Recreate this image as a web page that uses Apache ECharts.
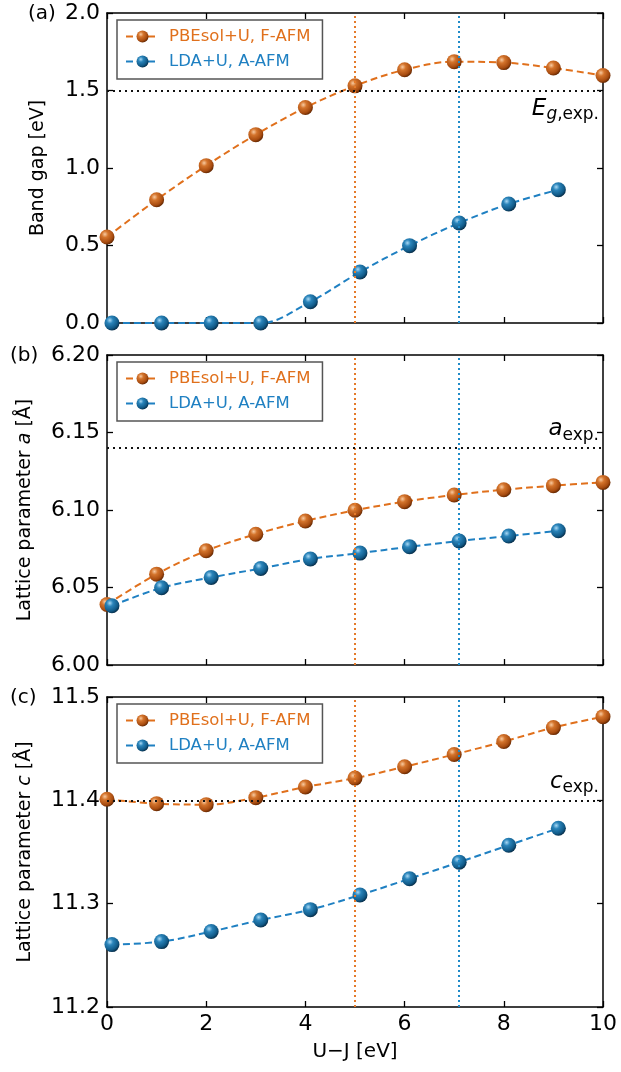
<!DOCTYPE html>
<html>
<head>
<meta charset="utf-8">
<script src="https://cdn.jsdelivr.net/npm/echarts@6/dist/echarts.min.js"></script>
<style>html,body{margin:0;padding:0;background:#fff}#c{width:621px;height:1072px}</style>
</head>
<body>
<div id="c"></div>
<script>
// ---- data ----
const xOrange = [0, 1, 2, 3, 4, 5, 6, 7, 8, 9, 10];
const xBlue = [0.1, 1.1, 2.1, 3.1, 4.1, 5.1, 6.1, 7.1, 8.1, 9.1];
const gapOrange = [0.555, 0.795, 1.015, 1.215, 1.39, 1.53, 1.634, 1.686, 1.68, 1.645, 1.597];
const gapBlue = [0, 0, 0, 0, 0.137, 0.329, 0.499, 0.645, 0.768, 0.86];
const aOrange = [6.039, 6.0586, 6.0737, 6.0844, 6.0929, 6.0998, 6.1054, 6.1097, 6.1131, 6.1157, 6.1178];
const aBlue = [6.0382, 6.0498, 6.0565, 6.0623, 6.0684, 6.0722, 6.0763, 6.08, 6.0832, 6.0866];
const cOrange = [11.401, 11.3968, 11.3958, 11.4026, 11.4129, 11.4215, 11.4325, 11.4444, 11.4569, 11.4704, 11.481];
const cBlue = [11.2604, 11.2633, 11.273, 11.2842, 11.2942, 11.3084, 11.3241, 11.3402, 11.3566, 11.373];
const expGap = 1.5, expA = 6.14, expC = 11.40;
const optUOrange = 5.0, optUBlue = 7.1;
const nameOrange = 'PBEsol+U, F-AFM';
const nameBlue = 'LDA+U, A-AFM';
const panelTags = ['(a)', '(b)', '(c)'];
const xTicks = {min: 0, max: 10, interval: 2};
const yAxesDef = [
  {min: 0, max: 2, interval: 0.5, dec: 1},
  {min: 6.0, max: 6.2, interval: 0.05, dec: 2},
  {min: 11.2, max: 11.5, interval: 0.1, dec: 1}
];

// ---- styling ----
const FONT = 'DejaVu Sans';
const OR = '#e0701c', BL = '#1f80c2';
const orangeBall = {type: 'radial', x: 0.36, y: 0.32, r: 0.72, colorStops: [
  {offset: 0, color: '#f8caa0'}, {offset: 0.3, color: '#d4742c'}, {offset: 0.75, color: '#a84c10'}, {offset: 1, color: '#5e2400'}]};
const blueBall = {type: 'radial', x: 0.36, y: 0.32, r: 0.72, colorStops: [
  {offset: 0, color: '#a8d8f4'}, {offset: 0.3, color: '#2a84ba'}, {offset: 0.75, color: '#115a88'}, {offset: 1, color: '#062a44'}]};

const tops = [13, 355, 697];
const H = 310;
const grids = tops.map(t => ({left: 107, right: 18, top: t, height: H}));

const xAxes = [], yAxes = [];
tops.forEach((t, i) => {
  const last = i === 2;
  const base = {type: 'value', gridIndex: i, min: xTicks.min, max: xTicks.max, interval: xTicks.interval,
    axisLine: {show: true, onZero: false, lineStyle: {color: '#000', width: 1.5}},
    axisTick: {show: true, inside: true, length: 6, lineStyle: {color: '#000', width: 1.3}},
    splitLine: {show: false}};
  xAxes.push(Object.assign({}, base, {position: 'bottom',
    axisLabel: {show: last, margin: 6, fontSize: 22, color: '#000', fontFamily: FONT},
    name: last ? 'U\u2212J [eV]' : '', nameLocation: 'middle', nameGap: 35,
    nameTextStyle: {fontSize: 20, color: '#000', fontFamily: FONT}}));
  xAxes.push(Object.assign({}, base, {position: 'top', axisLabel: {show: false}}));
  const yd = yAxesDef[i];
  const ybase = {type: 'value', gridIndex: i, min: yd.min, max: yd.max, interval: yd.interval,
    axisLine: {show: true, onZero: false, lineStyle: {color: '#000', width: 1.5}},
    axisTick: {show: true, inside: true, length: 6, lineStyle: {color: '#000', width: 1.3}},
    splitLine: {show: false}};
  const names = ['Band gap [eV]', '{n|Lattice parameter }{i|a}{n| [\u00c5]}', '{n|Lattice parameter }{i|c}{n| [\u00c5]}'];
  yAxes.push(Object.assign({}, ybase, {position: 'left',
    axisLabel: {show: true, margin: 7, fontSize: 22, color: '#000', fontFamily: FONT,
      formatter: v => v.toFixed(yd.dec)},
    name: names[i], nameLocation: 'middle', nameRotate: 90, nameGap: i === 0 ? 59 : 72,
    nameTextStyle: {fontSize: 19, color: '#000', fontFamily: FONT,
      rich: {n: {fontSize: 19, fontFamily: FONT, color: '#000'}, i: {fontSize: 19, fontFamily: FONT, fontStyle: 'italic', color: '#000'}}}}));
  yAxes.push(Object.assign({}, ybase, {position: 'right', axisLabel: {show: false}}));
});

function pairs(xs, ys) { return ys.map((y, k) => [xs[k], y]); }

const expLabels = [
  {v: expGap, txt: '{i|E}{si|g}{s|,exp.}', pos: 'insideEndBottom'},
  {v: expA, txt: '{i|a}{s|exp.}', pos: 'insideEndTop'},
  {v: expC, txt: '{i|c}{s|exp.}', pos: 'insideEndTop'}
];
const richExp = {
  i: {fontSize: 23, fontStyle: 'italic', fontFamily: FONT, color: '#000'},
  si: {fontSize: 17, fontStyle: 'italic', fontFamily: FONT, color: '#000', padding: [12, 0, 0, 0]},
  s: {fontSize: 17, fontFamily: FONT, color: '#000', padding: [12, 0, 0, 0]}
};

const oData = [gapOrange, aOrange, cOrange];
const bData = [gapBlue, aBlue, cBlue];
const series = [];
tops.forEach((t, i) => {
  series.push({
    name: nameOrange, type: 'line', xAxisIndex: 2 * i, yAxisIndex: 2 * i,
    data: pairs(xOrange, oData[i]), smooth: 0.35, clip: false,
    symbol: 'circle', symbolSize: 15,
    itemStyle: {color: orangeBall},
    lineStyle: {color: OR, width: 2, type: [7, 4]},
    z: 3,
    markLine: {silent: true, symbol: ['none', 'none'], animation: false,
      data: [
        {xAxis: optUOrange, lineStyle: {color: '#e47a2a', width: 2, type: [2, 3]}, label: {show: false}},
        {yAxis: expLabels[i].v, lineStyle: {color: '#111', width: 2, type: [2, 4]},
          label: {show: true, position: expLabels[i].pos, formatter: expLabels[i].txt, distance: [4, 4], rich: richExp}}
      ]}
  });
  series.push({
    name: nameBlue, type: 'line', xAxisIndex: 2 * i, yAxisIndex: 2 * i,
    data: pairs(xBlue, bData[i]), smooth: 0.35, clip: false,
    symbol: 'circle', symbolSize: 15,
    itemStyle: {color: blueBall},
    lineStyle: {color: BL, width: 2, type: [7, 4]},
    z: 3,
    markLine: {silent: true, symbol: ['none', 'none'], animation: false,
      data: [{xAxis: optUBlue, lineStyle: {color: '#1f8ac8', width: 2, type: [2, 3]}, label: {show: false}}]}
  });
});

const legends = tops.map(t => ({
  left: 117, top: t + 7, orient: 'vertical', itemGap: 8, itemWidth: 33, itemHeight: 15,
  padding: [8, 12, 9, 8], borderColor: '#555', borderWidth: 1.5, backgroundColor: '#fff',
  textStyle: {fontSize: 16.5, fontFamily: FONT, padding: [0, 0, 0, 5]},
  selectedMode: false,
  data: [{name: nameOrange, textStyle: {color: OR}}, {name: nameBlue, textStyle: {color: BL}}]
}));

const tagLeft = [28, 10, 10];
const graphics = panelTags.map((s, i) => ({
  type: 'text', left: tagLeft[i], top: tops[i] - 9, z: 10,
  style: {text: s, fontSize: 20, fontFamily: FONT, fill: '#000'}
}));

const chart = echarts.init(document.getElementById('c'), null, {renderer: 'canvas'});
chart.setOption({
  animation: false,
  backgroundColor: '#fff',
  textStyle: {fontFamily: FONT},
  legend: legends,
  grid: grids,
  xAxis: xAxes,
  yAxis: yAxes,
  series: series,
  graphic: graphics
});
</script>
</body>
</html>
